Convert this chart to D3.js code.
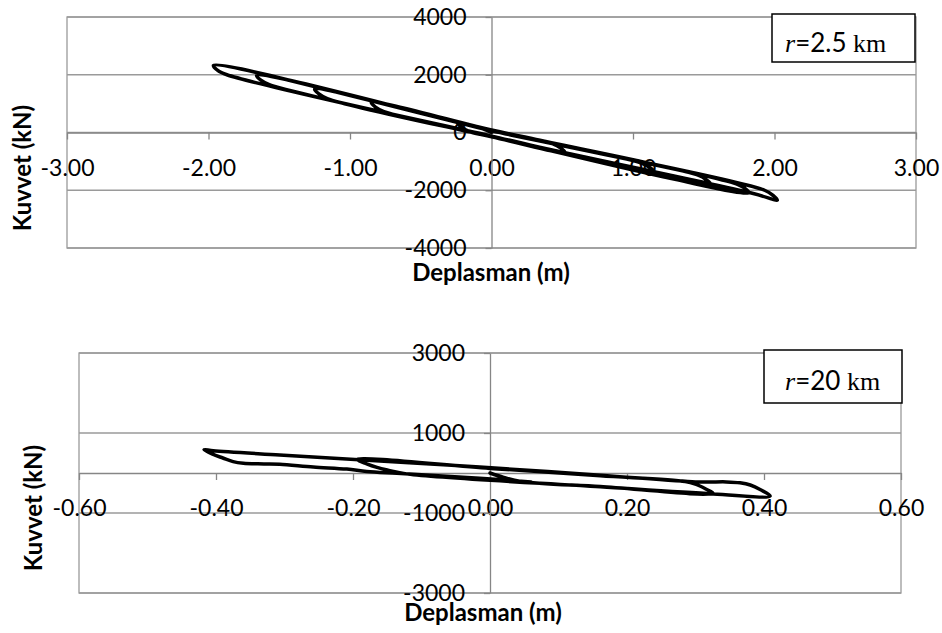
<!DOCTYPE html>
<html>
<head>
<meta charset="utf-8">
<script src="https://cdn.jsdelivr.net/npm/d3@7"></script>
<style>
  body { margin: 0; background: #fff; }
  svg { display: block; }
</style>
</head>
<body>
<svg id="chart" width="942" height="633"></svg>
<script>
// ---- data -------------------------------------------------------------
const xTitle = "Deplasman (m)";
const yTitle = "Kuvvet (kN)";

// upper panel: r = 2.5 km
const topTagDist = "=2.5";
const topXTicks  = [-3, -2, -1, 0, 1, 2, 3];
const topXLabels = ["-3.00", "-2.00", "-1.00", "0.00", "1.00", "2.00", "3.00"];
const topYTicks  = [4000, 2000, 0, -2000, -4000];
const topYLabels = ["4000", "2000", "0", "-2000", "-4000"];
// displacement (m), force (kN)
const topLoop = [
  [0, 0], [-0.06, 129], [-0.24, 336],
  [-0.21, 180], [-0.15, 23], [0, -142], [0.52, -691],
  [0.49, -540], [0.43, -385], [0, 80], [-0.85, 1045],
  [-0.82, 880], [-0.76, 724], [0, -130], [1.15, -1366],
  [1.12, -1215], [1.06, -1059], [0, 60], [-1.25, 1498],
  [-1.22, 1340], [-1.16, 1175], [0, -150], [1.55, -1794],
  [1.52, -1645], [1.46, -1480], [0, 90], [-1.66, 1975],
  [-1.63, 1810], [-1.57, 1656], [0, -125], [1.82, -2082],
  [1.79, -1930], [1.73, -1776], [0, 68], [-1.965, 2320],
  [-1.935, 2150], [-1.87, 2000], [0, -142], [1.85, -2115], [2.02, -2340],
  [1.99, -2180], [1.93, -2000], [0.3, -246], [0.05, 20]
];

// lower panel: r = 20 km
const botTagDist = "=20";
const botXTicks  = [-0.6, -0.4, -0.2, 0, 0.2, 0.4, 0.6];
const botXLabels = ["-0.60", "-0.40", "-0.20", "0.00", "0.20", "0.40", "0.60"];
const botYTicks  = [3000, 1000, -1000, -3000];
const botYLabels = ["3000", "1000", "-1000", "-3000"];
const botLoop = [
  [0, 0], [0.02, -110], [0.045, -210], [0.161, -340], [0.326, -510],
  [0.315, -400], [0.30, -280], [0.285, -212], [0.161, -70], [0, 115], [-0.194, 340],
  [-0.18, 230], [-0.165, 140], [-0.15, 75], [-0.12, -28], [0.161, -345], [0.326, -522], [0.409, -575],
  [0.395, -420], [0.38, -300], [0.365, -245], [0.345, -222], [0.32, -225], [0.30, -222],
  [0.161, -55], [-0.015, 150], [-0.112, 248], [-0.307, 450], [-0.404, 556], [-0.4175, 580],
  [-0.405, 470], [-0.39, 375], [-0.375, 285], [-0.36, 245], [-0.33, 228], [-0.307, 218],
  [-0.258, 150], [-0.209, 98], [-0.18, 40], [-0.136, -8], [-0.015, -130], [0.06, -225]
];

// ---- drawing ----------------------------------------------------------
const svg = d3.select("#chart");
svg.append("rect").attr("width", 942).attr("height", 633).attr("fill", "#fff");

const GRID = "#9a9a9a", AXIS = "#868686";
const SANS = "Lato, 'Open Sans', sans-serif";
const SERIF = "'Liberation Serif', 'DejaVu Serif', serif";

function panel(o) {
  const g = svg.append("g");
  const x = d3.scaleLinear().domain(o.xDomain).range([o.left, o.right]);
  const y = d3.scaleLinear().domain(o.yDomain).range([o.bottom, o.top]);

  // horizontal gridlines
  g.append("g").selectAll("line").data(o.yTicks).join("line")
    .attr("x1", o.left).attr("x2", o.right)
    .attr("y1", d => y(d)).attr("y2", d => y(d))
    .attr("stroke", GRID).attr("stroke-width", 1.3);

  // plot-area frame
  g.append("rect")
    .attr("x", o.left).attr("y", o.top)
    .attr("width", o.right - o.left).attr("height", o.bottom - o.top)
    .attr("fill", "none").attr("stroke", GRID).attr("stroke-width", 1.3);

  // horizontal axis through force = 0
  const xAxis = d3.axisBottom(x)
    .tickValues(o.xTicks)
    .tickFormat((d, i) => o.xLabels[i])
    .tickSize(7).tickSizeOuter(0).tickPadding(20);
  const gx = g.append("g").attr("transform", `translate(0,${y(0)})`).call(xAxis);

  // vertical axis through displacement = 0
  const yAxis = d3.axisLeft(y)
    .tickValues(o.yTicks)
    .tickFormat((d, i) => o.yLabels[i])
    .tickSize(6).tickSizeOuter(0).tickPadding(19);
  const gy = g.append("g").attr("transform", `translate(${x(0)},0)`).call(yAxis);

  [gx, gy].forEach(a => {
    a.attr("font-family", SANS).attr("font-size", 23);
    a.selectAll("path, line").attr("stroke", AXIS).attr("stroke-width", 1.3);
    a.selectAll("text").attr("fill", "#000");
  });

  // hysteresis curve
  const line = d3.line()
    .x(d => x(d[0])).y(d => y(d[1]))
    .curve(d3.curveCatmullRom.alpha(0.5));
  g.append("path").datum(o.data)
    .attr("d", line)
    .attr("fill", "none").attr("stroke", "#000")
    .attr("stroke-width", 3.5).attr("stroke-linejoin", "round").attr("stroke-linecap", "round");

  // axis titles
  g.append("text")
    .attr("x", o.xTitlePos[0]).attr("y", o.xTitlePos[1])
    .attr("text-anchor", "middle")
    .attr("font-family", SANS).attr("font-weight", "bold").attr("font-size", 24)
    .text(xTitle);
  g.append("text")
    .attr("transform", `translate(${o.yTitlePos[0]},${o.yTitlePos[1]}) rotate(-90)`)
    .attr("text-anchor", "middle").attr("dy", "0.35em")
    .attr("font-family", SANS).attr("font-weight", "bold").attr("font-size", 24)
    .text(yTitle);

  // distance tag
  const b = o.tagBox;
  g.append("rect")
    .attr("x", b[0]).attr("y", b[1]).attr("width", b[2]).attr("height", b[3])
    .attr("fill", "#fff").attr("stroke", "#000").attr("stroke-width", 1.5);
  const t = g.append("text")
    .attr("x", o.tagText[0]).attr("y", o.tagText[1])
    .attr("font-size", 26).attr("fill", "#000");
  t.append("tspan").attr("font-family", SERIF).attr("font-style", "italic").text("r");
  t.append("tspan").attr("font-family", SANS).text(o.tagDist);
  t.append("tspan").attr("font-family", SERIF).text(" km");
}

panel({
  left: 67, right: 916, top: 17, bottom: 248,
  xDomain: [-3, 3], yDomain: [-4000, 4000],
  xTicks: topXTicks, xLabels: topXLabels,
  yTicks: topYTicks, yLabels: topYLabels,
  data: topLoop,
  xTitlePos: [491, 281], yTitlePos: [23, 168],
  tagBox: [772, 14, 143, 48], tagText: [785, 52], tagDist: topTagDist
});

panel({
  left: 79, right: 901, top: 353, bottom: 593,
  xDomain: [-0.6, 0.6], yDomain: [-3000, 3000],
  xTicks: botXTicks, xLabels: botXLabels,
  yTicks: botYTicks, yLabels: botYLabels,
  data: botLoop,
  xTitlePos: [483, 621], yTitlePos: [34, 508],
  tagBox: [764, 350, 138, 53], tagText: [785, 390], tagDist: botTagDist
});
</script>
</body>
</html>
